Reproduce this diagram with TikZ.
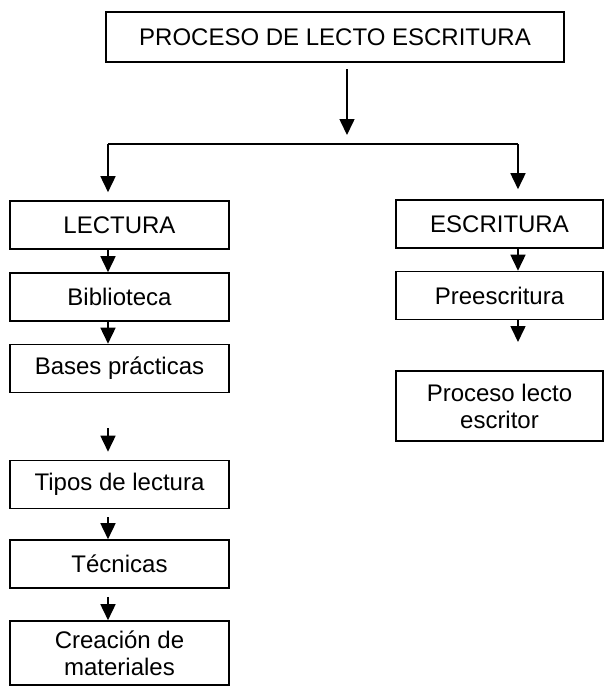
\documentclass[tikz,border=0pt]{standalone}
\usepackage{fontspec}
\setmainfont{Liberation Sans}
\usetikzlibrary{arrows.meta,positioning}

\begin{document}
\begin{tikzpicture}[x=0.5pt,y=-0.5pt,
        caja/.style={draw, line width=0.8pt, inner sep=0pt, align=center,
            font=\fontsize{12}{13.5}\selectfont},
        izq/.style={caja, minimum width=109.5pt, minimum height=24pt},
        der/.style={caja, minimum width=103.5pt, minimum height=24pt},
        flecha/.style={line width=0.8pt, -{Triangle[length=8pt,width=7.5pt]}}]
            \useasboundingbox (0,0) rectangle (605,687);
            \node [caja, minimum width=229pt, minimum height=25pt] (proceso) at (335,37) {PROCESO DE LECTO ESCRITURA};

            \node [izq] (lectura) at (119.5,225) {LECTURA};
            \node [izq] (biblio) at (119.5,297) {Biblioteca};
            \node [izq] (bases) at (119.5,368.5) {Bases prácticas};
            \node [izq] (tipos) at (119.5,484.5) {Tipos de lectura};
            \node [izq] (tecnicas) at (119.5,564) {Técnicas};
            \node [izq, minimum height=32pt] (creacion) at (119.5,653) {Creación de\\materiales};

            \node [der] (escritura) at (499.5,224) {ESCRITURA};
            \node [der] (pre) at (499.5,295.5) {Preescritura};
            \node [der, minimum height=35pt] (lecto) at (499.5,406) {Proceso lecto\\escritor};

            % ramas
            \coordinate (p1) at (347,69);
            \coordinate (p2) at (347,135);
            \coordinate (ri) at (108,144);
            \coordinate (rd) at (518,144);
            \draw [flecha] (p1) -- (p2);
            \draw [line width=0.8pt] (ri) -- (rd);
            \draw [flecha, shorten >=4pt] (ri) -- (ri |- lectura.north);
            \draw [flecha, shorten >=5pt] (rd) -- (rd |- escritura.north);

            \foreach \a/\b/\s in {lectura/biblio/0pt, biblio/bases/0pt, tipos/tecnicas/4pt, tecnicas/creacion/4pt}{
                \draw [flecha, shorten <=\s] (ri |- \a.south) -- (ri |- \b.north);
            };
            \draw [flecha] (rd |- escritura.south) -- (rd |- pre.north);

            % flechas sueltas
            \coordinate (s1) at (108,428);
            \coordinate (s2) at (518,342);
            \draw [flecha, shorten >=4pt] (s1) -- (s1 |- tipos.north);
            \draw [flecha] (rd |- pre.south) -- (s2);
        \end{tikzpicture}
\end{document}
